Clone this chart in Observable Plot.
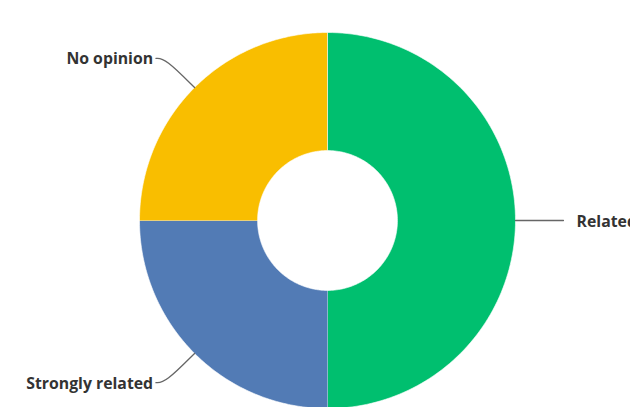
<!DOCTYPE html>
<html>
<head>
<meta charset="utf-8">
<script src="https://cdn.jsdelivr.net/npm/d3@7"></script>
<script src="https://cdn.jsdelivr.net/npm/@observablehq/plot@0.6"></script>
<style>
  html, body { margin: 0; padding: 0; background: #fff; }
</style>
</head>
<body>
<div id="chart"></div>
<script>
const categories = ["Related", "Strongly related", "No opinion"];
const values = [50, 25, 25];
const colors = ["#00bf6f", "#527bb5", "#f9be00"];

const innerR = 0.372;
const pie = d3.pie().sort(null).value(d => d)(values);

// slice polygons sampled along arcs (data units, radius 1)
const rows = [];
pie.forEach((p, i) => {
  const n = 120;
  for (let k = 0; k <= n; k++) {
    const a = p.startAngle + (p.endAngle - p.startAngle) * k / n;
    rows.push({category: categories[i], x: Math.sin(a), y: Math.cos(a)});
  }
  for (let k = n; k >= 0; k--) {
    const a = p.startAngle + (p.endAngle - p.startAngle) * k / n;
    rows.push({category: categories[i], x: innerR * Math.sin(a), y: innerR * Math.cos(a)});
  }
});

// leader lines and labels
const leaders = [];
const labels = [];
pie.forEach((p, i) => {
  const a = (p.startAngle + p.endAngle) / 2;
  const s = Math.sin(a), c = Math.cos(a);
  const P = {x: s, y: c};
  const side = s >= 0 ? 1 : -1;
  if (Math.abs(c) < 0.2) {
    const end = {x: P.x + side * 0.255, y: P.y};
    leaders.push({category: categories[i], ...P}, {category: categories[i], ...end});
    labels.push({text: categories[i], x: end.x + side * 0.07, y: end.y, side});
  } else {
    const E = {x: 1.22 * s, y: 1.22 * c};
    const end = {x: E.x + side * 0.05, y: E.y};
    leaders.push({category: categories[i], ...P}, {category: categories[i], ...E}, {category: categories[i], ...end});
    labels.push({text: categories[i], x: end.x + side * 0.015, y: end.y, side});
  }
});

const R = 188, cx = 327, cy = 220, W = 630, H = 407;
const font = "'Open Sans', 'Noto Sans', sans-serif";

const chart = Plot.plot({
  width: W,
  height: H,
  margin: 0,
  x: {domain: [-cx / R, (W - cx) / R], range: [0, W], axis: null},
  y: {domain: [-(H - cy) / R, cy / R], range: [H, 0], axis: null},
  color: {domain: categories, range: colors},
  style: {background: "#fff", overflow: "hidden"},
  marks: [
    Plot.line(rows, {x: "x", y: "y", z: "category", fill: "category", stroke: "#fff", strokeWidth: 0.6, curve: "linear"}),
    Plot.line(leaders, {x: "x", y: "y", z: "category", stroke: "#666", strokeWidth: 1.3, curve: "basis"}),
    Plot.text(labels.filter(d => d.side < 0), {x: "x", y: "y", dy: 1, text: "text", textAnchor: "end", fill: "#333", fontSize: 15.8, fontWeight: "bold", fontFamily: font}),
    Plot.text(labels.filter(d => d.side > 0), {x: "x", y: "y", dy: 1, text: "text", textAnchor: "start", fill: "#333", fontSize: 15.8, fontWeight: "bold", fontFamily: font})
  ]
});
document.getElementById("chart").append(chart);
</script>
</body>
</html>
